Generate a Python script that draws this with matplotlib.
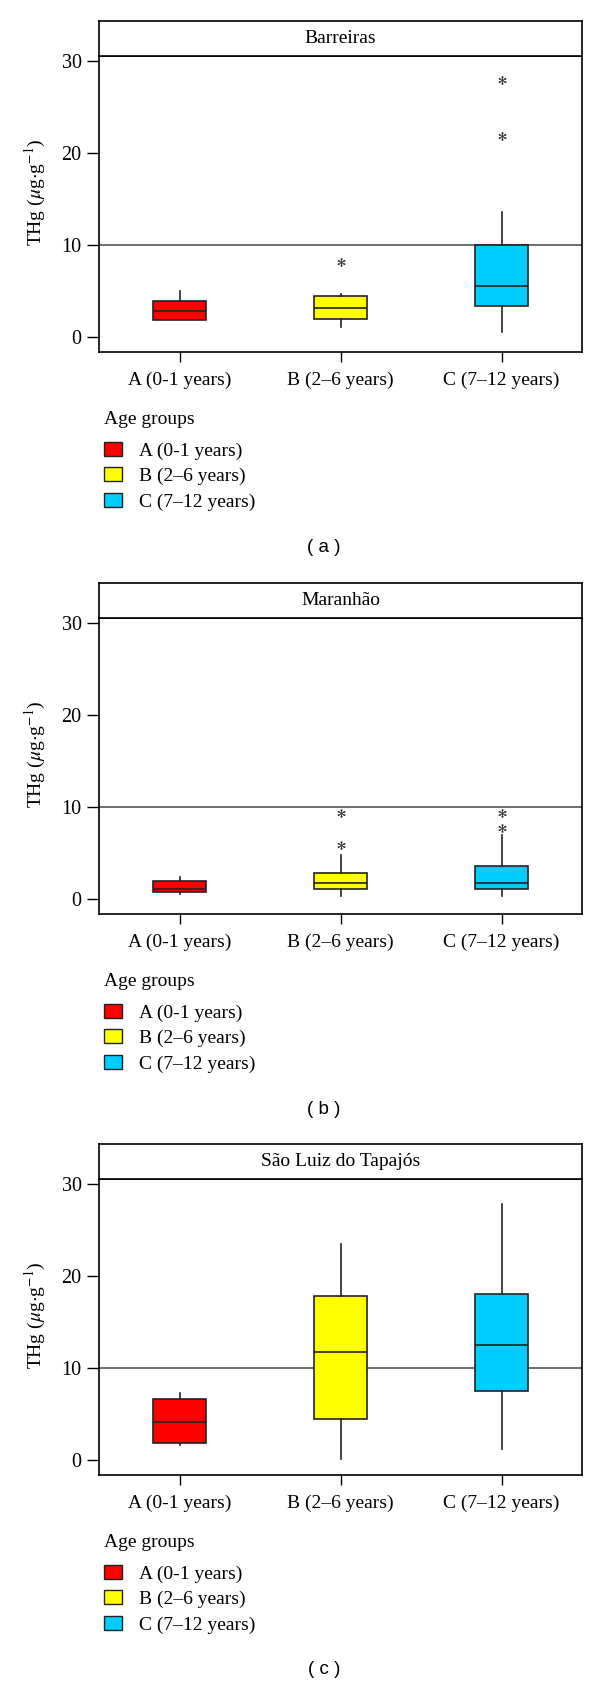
import matplotlib
matplotlib.use("Agg")
import matplotlib.pyplot as plt
from matplotlib.patches import Patch

plt.rcParams["font.family"] = ["Liberation Serif", "DejaVu Serif"]
plt.rcParams["mathtext.fontset"] = "stix"

groups = ["A (0-1 years)", "B (2–6 years)", "C (7–12 years)"]
colors = ["#FF0000", "#FFFF00", "#00CCFF"]
sites = ["Barreiras", "Maranhão", "São Luiz do Tapajós"]
captions = ["( a )", "( b )", "( c )"]

# box statistics (THg, ug/g), one value per age group
barreiras_whislo = [1.88, 1.10, 0.55]
barreiras_q1 = [1.88, 1.95, 3.35]
barreiras_med = [2.83, 3.10, 5.55]
barreiras_q3 = [3.88, 4.45, 10.0]
barreiras_whishi = [4.97, 4.70, 13.6]
barreiras_fliers = [[], [8.2], [21.8, 27.9]]

maranhao_whislo = [0.54, 0.31, 0.30]
maranhao_q1 = [0.77, 1.12, 1.12]
maranhao_med = [1.13, 1.74, 1.74]
maranhao_q3 = [1.92, 2.83, 3.60]
maranhao_whishi = [2.43, 4.73, 7.0]
maranhao_fliers = [[], [5.9, 9.3], [7.75, 9.3]]

tapajos_whislo = [1.63, 0.08, 1.17]
tapajos_q1 = [1.89, 4.5, 7.5]
tapajos_med = [4.17, 11.7, 12.5]
tapajos_q3 = [6.67, 17.8, 18.0]
tapajos_whishi = [7.25, 23.5, 27.8]
tapajos_fliers = [[], [], []]

yticks = [0, 10, 20, 30]
ref_level = 10

site_stats = [
    (barreiras_whislo, barreiras_q1, barreiras_med, barreiras_q3, barreiras_whishi, barreiras_fliers),
    (maranhao_whislo, maranhao_q1, maranhao_med, maranhao_q3, maranhao_whishi, maranhao_fliers),
    (tapajos_whislo, tapajos_q1, tapajos_med, tapajos_q3, tapajos_whishi, tapajos_fliers),
]

W, H = 600, 1688
FS = 14
fig = plt.figure(figsize=(W / 100, H / 100), dpi=100)


def fig_box(left, top, right, bottom):
    """pixel box (from top-left) -> figure fraction rect"""
    return [left / W, 1 - bottom / H, (right - left) / W, (bottom - top) / H]


offsets = [0, 562, 1123]
for k, (site, stats_lists) in enumerate(zip(sites, site_stats)):
    o = offsets[k]
    lo, q1, med, q3, hi, fl = stats_lists
    stats = []
    for i in range(3):
        stats.append(dict(whislo=lo[i], q1=q1[i], med=med[i], q3=q3[i],
                          whishi=hi[i], fliers=fl[i]))

    ax = fig.add_axes(fig_box(99, o + 56, 582, o + 352))
    ax.axhline(ref_level, color="#555555", lw=1.2, zorder=0)
    res = ax.bxp(stats, positions=[1, 2, 3], widths=0.335, patch_artist=True,
                 showcaps=False,
                 boxprops=dict(edgecolor="#222222", linewidth=1.2),
                 medianprops=dict(color="#222222", linewidth=1.2),
                 whiskerprops=dict(color="#222222", linewidth=1.2),
                 flierprops=dict(marker="$*$", markersize=6, color="#222222",
                                 markerfacecolor="#222222", markeredgecolor="#222222",
                                 markeredgewidth=0.2, linestyle="none"))
    for patch, c in zip(res["boxes"], colors):
        patch.set_facecolor(c)
        patch.set_zorder(2)

    ax.set_xlim(0.5, 3.5)
    ax.set_ylim(-1.63, 30.54)
    ax.set_yticks(yticks)
    ax.set_xticks([1, 2, 3])
    ax.set_xticklabels(groups)
    ax.tick_params(axis="y", length=8.5, width=1, pad=4, labelsize=FS + 0.5)
    ax.tick_params(axis="x", length=7.5, width=1, pad=7, labelsize=FS)
    for sp in ax.spines.values():
        sp.set_linewidth(1.2)
    ax.set_ylabel("THg ($\\mu$g$\\cdot$g$^{-1}$)", fontsize=FS)
    ax.yaxis.set_label_coords(-0.105, 0.54)

    # strip with the site name
    sax = fig.add_axes(fig_box(99, o + 21, 582, o + 56))
    sax.set_xticks([])
    sax.set_yticks([])
    for sp in sax.spines.values():
        sp.set_linewidth(1.2)
    sax.text(0.5, 0.5, site, ha="center", va="center", fontsize=FS,
             transform=sax.transAxes)

    handles = [Patch(facecolor=c, edgecolor="#222222", linewidth=1.0) for c in colors]
    leg = ax.legend(handles, groups, title="Age groups", loc="upper left",
                    bbox_to_anchor=(104 / W, 1 - (o + 411) / H),
                    bbox_transform=fig.transFigure, frameon=False,
                    alignment="left", fontsize=FS, title_fontsize=FS,
                    handlelength=0.95, handleheight=0.75, handletextpad=0.85,
                    labelspacing=0.38, borderpad=0, borderaxespad=0)
    leg._legend_box.sep = 10

    fig.text(0.54, 1 - (o + 547) / H, captions[k], ha="center", va="center",
             family="Liberation Sans", fontsize=13.5)

fig.savefig("out.png", dpi=100)
